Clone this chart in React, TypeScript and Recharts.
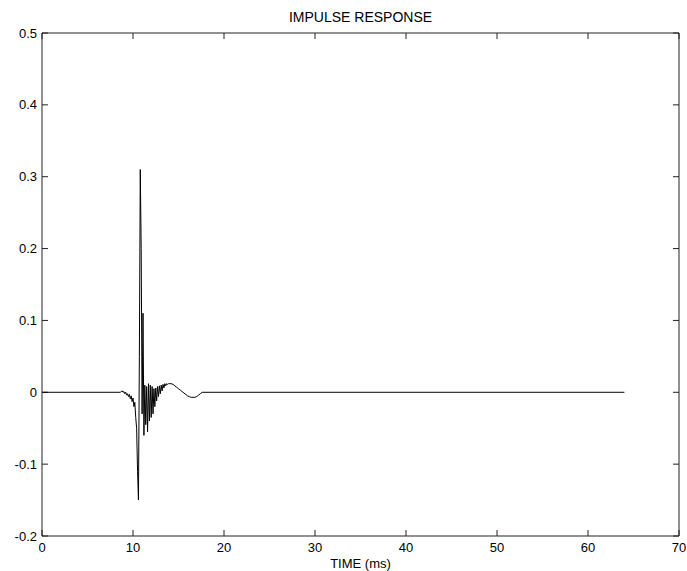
import React from "react";
import { LineChart, Line, XAxis, YAxis, Label, ReferenceLine } from "recharts";

const TIME = [
  0, 8.6, 8.7, 8.8, 8.9, 9.0, 9.1, 9.2, 9.3, 9.4, 9.5, 9.6, 9.7, 9.8, 9.9,
  10.0, 10.1, 10.2, 10.3, 10.4, 10.5, 10.6, 10.7, 10.8, 10.9,
  11.0, 11.1, 11.2, 11.3, 11.4, 11.5, 11.6, 11.7, 11.8, 11.9,
  12.0, 12.1, 12.2, 12.3, 12.4, 12.5, 12.6, 12.7, 12.8, 12.9,
  13.0, 13.1, 13.2, 13.3, 13.4, 13.5, 13.6, 13.7, 13.8, 13.9,
  14.0, 14.2, 14.4, 14.6, 14.8, 15.0, 15.2, 15.4, 15.6, 15.8,
  16.0, 16.2, 16.4, 16.6, 16.8, 17.0, 17.2, 17.4, 17.6, 64,
];
const RESPONSE = [
  0, 0, 0.001, 0.002, 0.0, 0.001, -0.002, 0.0, -0.004, -0.002, -0.006, -0.003, -0.009, -0.005, -0.013,
  -0.008, -0.02, -0.014, -0.035, -0.05, -0.11, -0.15, 0.05, 0.31, 0.2,
  -0.03, 0.11, -0.06, 0.01, -0.045, 0.008, -0.055, 0.012, -0.04, 0.01,
  -0.035, 0.008, -0.03, 0.005, -0.02, 0.006, -0.012, 0.008, -0.006, 0.009,
  -0.002, 0.01, 0.002, 0.011, 0.006, 0.012, 0.009, 0.012, 0.011, 0.012,
  0.012, 0.012, 0.011, 0.009, 0.007, 0.005, 0.003, 0.001, -0.001, -0.003,
  -0.005, -0.006, -0.007, -0.007, -0.007, -0.006, -0.004, -0.002, 0, 0,
];

const X_TICKS = [0, 10, 20, 30, 40, 50, 60, 70];
const Y_TICKS = [-0.2, -0.1, 0, 0.1, 0.2, 0.3, 0.4, 0.5];
const Y_LABELS = ["-0.2", "-0.1", "0", "0.1", "0.2", "0.3", "0.4", "0.5"];

const data = TIME.map((t, i) => ({ t, v: RESPONSE[i] }));

const FONT = "'Liberation Sans', Arial, sans-serif";
const INK = "#222";
const tickText = { fontSize: 13, fill: "#000", fontFamily: FONT };

const X_MIN = 0, X_MAX = 70, Y_MIN = -0.2, Y_MAX = 0.5;
// inward tick length (~6px) expressed in data units of each axis
const TICK_DX = 0.66;
const TICK_DY = 0.0084;

export default function App() {
  return (
    <div style={{ position: "absolute", left: 0, top: 0, background: "#fff" }}>
      <LineChart width={687} height={571} data={data} margin={{ top: 0, right: 0, bottom: 0, left: 0 }}>
        <XAxis
          dataKey="t"
          type="number"
          domain={[X_MIN, X_MAX]}
          ticks={X_TICKS}
          interval={0}
          height={35}
          tickSize={0}
          tickMargin={7}
          tickLine={false}
          axisLine={{ stroke: INK }}
          tick={tickText}
        >
          <Label value="TIME (ms)" position="insideBottom" offset={3} style={tickText} />
        </XAxis>
        <XAxis
          xAxisId="top"
          orientation="top"
          dataKey="t"
          type="number"
          domain={[X_MIN, X_MAX]}
          ticks={X_TICKS}
          height={33}
          tick={false}
          tickLine={false}
          axisLine={{ stroke: INK }}
        >
          <Label
            value="IMPULSE RESPONSE"
            position="insideTop"
            offset={12}
            style={{ ...tickText, fontSize: 14 }}
          />
        </XAxis>
        <YAxis
          type="number"
          domain={[Y_MIN, Y_MAX]}
          ticks={Y_TICKS}
          interval={0}
          width={42}
          tickSize={0}
          tickMargin={5}
          tickLine={false}
          axisLine={{ stroke: INK }}
          tick={tickText}
          tickFormatter={(v: number) => Y_LABELS[Y_TICKS.indexOf(v)] ?? String(v)}
        />
        <YAxis
          yAxisId="right"
          orientation="right"
          type="number"
          domain={[Y_MIN, Y_MAX]}
          ticks={Y_TICKS}
          width={8}
          tick={false}
          tickLine={false}
          axisLine={{ stroke: INK }}
        />

        {/* inward tick marks on all four sides, matlab style */}
        {X_TICKS.map((t) => (
          <ReferenceLine
            key={`b${t}`}
            segment={[{ x: t, y: Y_MIN }, { x: t, y: Y_MIN + TICK_DY }]}
            stroke={INK}
            ifOverflow="visible"
          />
        ))}
        {X_TICKS.map((t) => (
          <ReferenceLine
            key={`t${t}`}
            segment={[{ x: t, y: Y_MAX }, { x: t, y: Y_MAX - TICK_DY }]}
            stroke={INK}
            ifOverflow="visible"
          />
        ))}
        {Y_TICKS.map((v) => (
          <ReferenceLine
            key={`l${v}`}
            segment={[{ x: X_MIN, y: v }, { x: X_MIN + TICK_DX, y: v }]}
            stroke={INK}
            ifOverflow="visible"
          />
        ))}
        {Y_TICKS.map((v) => (
          <ReferenceLine
            key={`r${v}`}
            segment={[{ x: X_MAX, y: v }, { x: X_MAX - TICK_DX, y: v }]}
            stroke={INK}
            ifOverflow="visible"
          />
        ))}

        <Line
          dataKey="v"
          type="linear"
          stroke="#000"
          strokeWidth={1}
          dot={false}
          isAnimationActive={false}
        />
      </LineChart>
    </div>
  );
}
